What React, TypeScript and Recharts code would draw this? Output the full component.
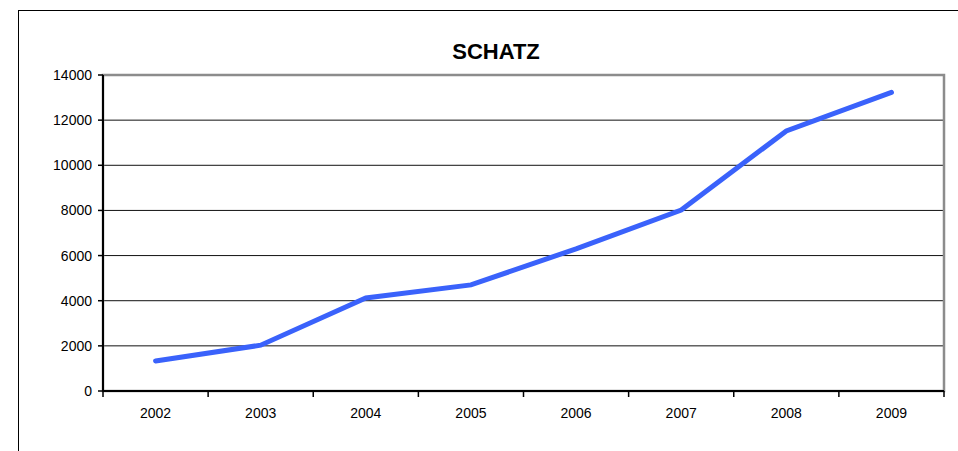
import React from "react";
import { LineChart, Line, XAxis, YAxis, CartesianGrid, ReferenceArea } from "recharts";

const years = ["2002", "2003", "2004", "2005", "2006", "2007", "2008", "2009"];
const values = [1330, 2030, 4120, 4700, 6300, 8020, 11520, 13230];
const yTicks = [0, 2000, 4000, 6000, 8000, 10000, 12000, 14000];

const data = years.map((y, i) => ({ year: y, value: values[i] }));

const FONT = "'Liberation Sans', Arial, Helvetica, sans-serif";

const XTick = (props: any) => {
  const { x, y, payload, index } = props;
  const off = payload && payload.offset ? payload.offset : 0;
  const last = index === years.length - 1;
  return (
    <g>
      <line x1={x - off} x2={x - off} y1={y - 8} y2={y - 2} stroke="#000" strokeWidth={1.5} />
      {last && <line x1={x + off} x2={x + off} y1={y - 8} y2={y - 2} stroke="#000" strokeWidth={1.5} />}
      <text x={x} y={y + 19} textAnchor="middle" fontSize={14} fontFamily={FONT} fill="#000">
        {payload.value}
      </text>
    </g>
  );
};

export default function App() {
  return (
    <div style={{ position: "fixed", left: 0, top: 0, width: 958, height: 451, background: "#fff", overflow: "hidden" }}>
      <div
        style={{
          position: "absolute",
          left: 18,
          top: 10,
          width: 1000,
          height: 500,
          borderLeft: "1px solid #000",
          borderTop: "1px solid #000",
        }}
      />
      <div
        style={{
          position: "absolute",
          left: 396,
          width: 200,
          top: 39,
          textAlign: "center",
          fontFamily: FONT,
          fontWeight: "bold",
          fontSize: 22,
          lineHeight: "26px",
          color: "#000",
        }}
      >
        SCHATZ
      </div>
      <div style={{ position: "absolute", left: 0, top: 0 }}>
        <LineChart width={958} height={451} data={data} margin={{ top: 75, right: 14, bottom: 30, left: 0 }}>
          <CartesianGrid horizontal={true} vertical={false} stroke="#111" strokeWidth={1} />
          <ReferenceArea
            x1="2002"
            x2="2009"
            y1={0}
            y2={14000}
            fill="none"
            stroke="#8c8c8c"
            strokeWidth={2.5}
            ifOverflow="visible"
          />
          <XAxis
            dataKey="year"
            scale="band"
            height={30}
            axisLine={{ stroke: "#000", strokeWidth: 2 }}
            tickLine={false}
            tick={<XTick />}
            interval={0}
          />
          <YAxis
            width={103}
            domain={[0, 14000]}
            ticks={yTicks}
            interval={0}
            axisLine={{ stroke: "#000", strokeWidth: 2 }}
            tickLine={{ stroke: "#000", strokeWidth: 1.5 }}
            tickSize={5}
            tick={{ fontSize: 14, fontFamily: FONT, fill: "#000" }}
            tickMargin={6}
          />
          <Line
            type="linear"
            dataKey="value"
            stroke="#3a62fb"
            strokeWidth={5}
            dot={false}
            activeDot={false}
            isAnimationActive={false}
            strokeLinecap="round"
          />
        </LineChart>
      </div>
    </div>
  );
}
